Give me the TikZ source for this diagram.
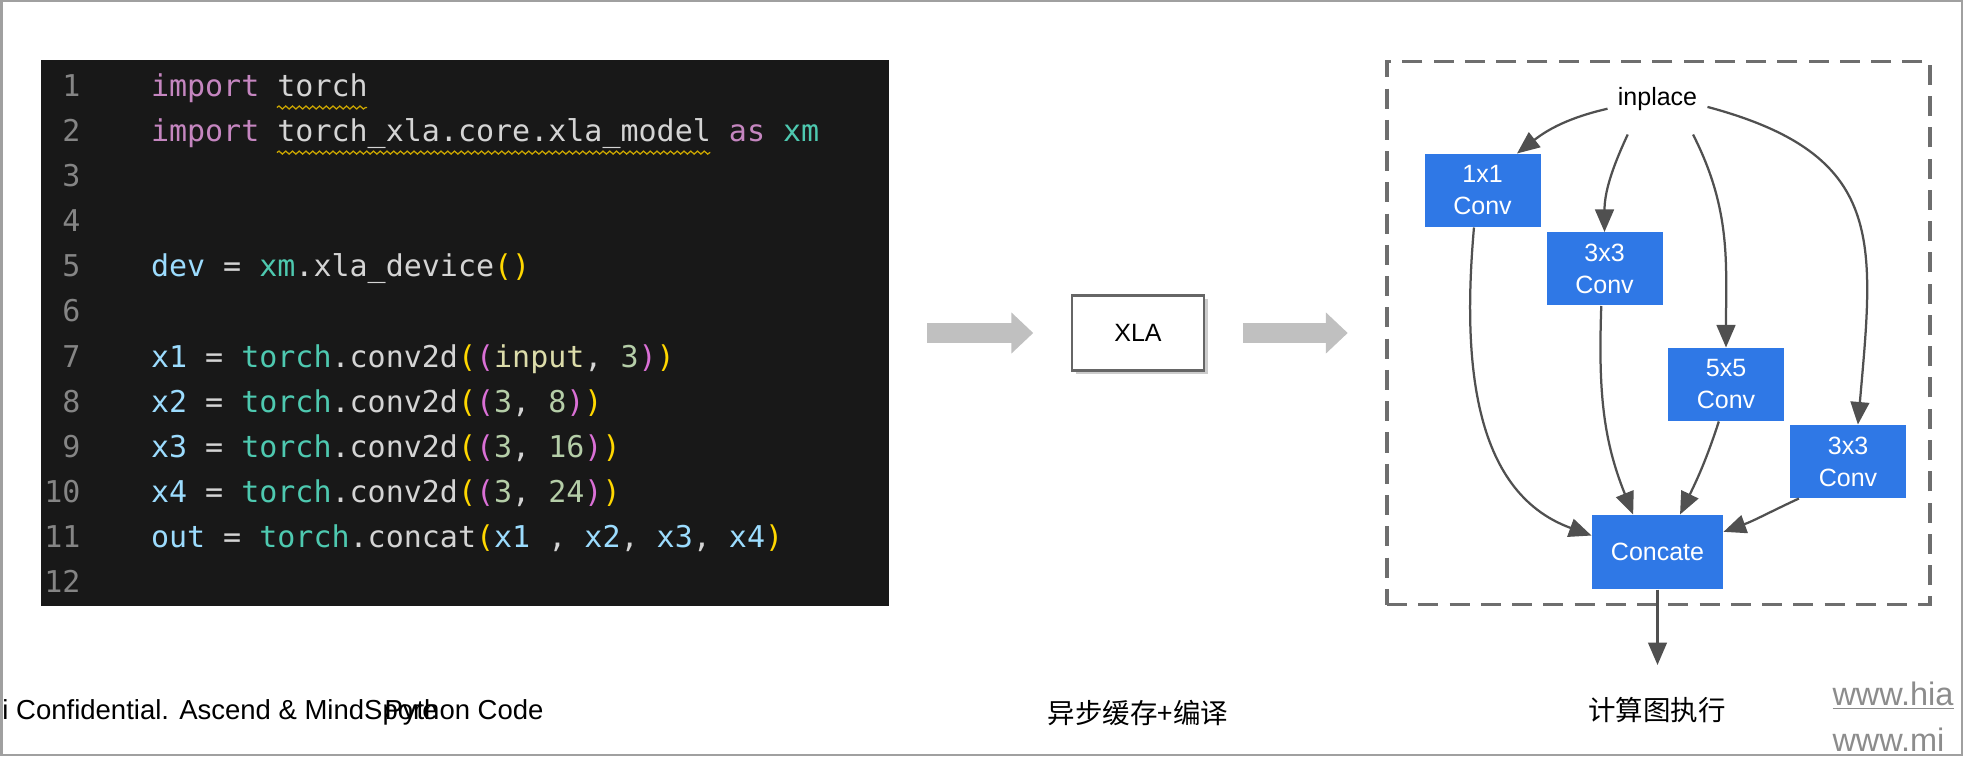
\documentclass[tikz,border=0pt]{standalone}
\usepackage{fontspec}
\setmainfont{Liberation Sans}
\newfontfamily\codefont{DejaVu Sans Mono}
\newfontfamily\cjk{Noto Sans CJK SC}
\usetikzlibrary{arrows.meta,calc,shadows,decorations.pathmorphing,positioning}

\definecolor{codebg}{HTML}{181818}
\definecolor{plaintxt}{HTML}{D4D4D4}
\definecolor{kwpink}{HTML}{C586C0}
\definecolor{varblue}{HTML}{9CDCFE}
\definecolor{modteal}{HTML}{4EC9B0}
\definecolor{brkyellow}{HTML}{FFD700}
\definecolor{brkpink}{HTML}{DA70D6}
\definecolor{argyellow}{HTML}{DCDCAA}
\definecolor{numgreen}{HTML}{B5CEA8}
\definecolor{lnumgray}{HTML}{858585}
\definecolor{squig}{HTML}{CCA700}
\definecolor{convblue}{HTML}{2F78E6}
\definecolor{flowgray}{HTML}{505050}
\definecolor{boxgray}{HTML}{666666}
\definecolor{dashgray}{HTML}{6E6E6E}
\definecolor{arrowgray}{HTML}{C0C0C0}
\definecolor{framegray}{HTML}{A0A0A0}
\definecolor{wmgray}{HTML}{8C8C8C}

\newcommand{\ckw}[1]{\textcolor{kwpink}{#1}}
\newcommand{\cvar}[1]{\textcolor{varblue}{#1}}
\newcommand{\cmod}[1]{\textcolor{modteal}{#1}}
\newcommand{\cbra}[1]{\textcolor{brkyellow}{#1}}
\newcommand{\cbrb}[1]{\textcolor{brkpink}{#1}}
\newcommand{\carg}[1]{\textcolor{argyellow}{#1}}
\newcommand{\cnum}[1]{\textcolor{numgreen}{#1}}

\tikzset{
	codepanel/.style={fill=codebg, inner sep=0pt, minimum width=339.2pt, minimum height=218.4pt},
	codeline/.style={anchor=base west, inner sep=0pt, text=plaintxt, font=\codefont\fontsize{12}{14}\selectfont},
	linenum/.style={anchor=base east, inner sep=0pt, text=lnumgray, font=\codefont\fontsize{12}{14}\selectfont},
	squiggle/.style={draw=squig, line width=0.5pt, decorate, decoration={snake, amplitude=0.6pt, segment length=2.7pt}},
	bigarrow/.style={draw=arrowgray, line width=8pt, -{Triangle[length=8.8pt,width=16pt]}, shorten <=15pt, shorten >=15pt},
	xlabox/.style={draw=boxgray, line width=1pt, fill=white, drop shadow={shadow xshift=1.5pt, shadow yshift=-1.5pt, opacity=0.4}, minimum width=52.8pt, minimum height=30pt, font=\fontsize{10}{12}\selectfont},
	dashframe/.style={draw=dashgray, line width=1.4pt, dash pattern=on 8pt off 4.5pt, minimum width=217.2pt, minimum height=217.2pt},
	opbox/.style={fill=convblue, text=white, minimum width=46.4pt, minimum height=29.2pt, inner sep=0pt, align=center, font=\fontsize{10}{12.8}\selectfont},
	flow/.style={draw=flowgray, line width=0.9pt, -{Triangle[length=9pt,width=7.5pt]}},
	caption/.style={font=\fontsize{11}{13}\selectfont},
	cjkcap/.style={font=\cjk\fontsize{11}{13}\selectfont},
}

\begin{document}
\begin{tikzpicture}[x=0.4pt, y=-0.4pt]
	\useasboundingbox (0,0) rectangle (1966,758);
	\draw[framegray, line width=0.8pt] (1.5,1.5) rectangle (1962,754.5);

	% code editor
	\node[codepanel] (code) at (465,333) {};
	\foreach \i in {1,...,12}
		\node[linenum] (n\i) at (81,{96.5+45.1*(\i-1)}) {\i};
	\node[codeline] (l1) at (150.5,96.5) {\ckw{import} torch};
	\node[codeline] (l2) at (150.5,141.6) {\ckw{import} torch\_xla.core.xla\_model \ckw{as} \cmod{xm}};
	\node[codeline] (l5) at (150.5,276.9) {\cvar{dev} = \cmod{xm}.xla\_device\cbra{()}};
	\node[codeline] (l7) at (150.5,367.1) {\cvar{x1} = \cmod{torch}.conv2d\cbra{(}\cbrb{(}\carg{input}, \cnum{3}\cbrb{)}\cbra{)}};
	\node[codeline] (l8) at (150.5,412.2) {\cvar{x2} = \cmod{torch}.conv2d\cbra{(}\cbrb{(}\cnum{3}, \cnum{8}\cbrb{)}\cbra{)}};
	\node[codeline] (l9) at (150.5,457.3) {\cvar{x3} = \cmod{torch}.conv2d\cbra{(}\cbrb{(}\cnum{3}, \cnum{16}\cbrb{)}\cbra{)}};
	\node[codeline] (l10) at (150.5,502.4) {\cvar{x4} = \cmod{torch}.conv2d\cbra{(}\cbrb{(}\cnum{3}, \cnum{24}\cbrb{)}\cbra{)}};
	\node[codeline] (l11) at (150.5,547.5) {\cvar{out} = \cmod{torch}.concat\cbra{(}\cvar{x1} , \cvar{x2}, \cvar{x3}, \cvar{x4}\cbra{)}};
	\draw[squiggle] ($(l1.base west)+(126.4,11)$) -- ($(l1.base west)+(216.7,11)$);
	\draw[squiggle] ($(l2.base west)+(126.4,11)$) -- ($(l2.base west)+(559.9,11)$);

	% compiler
	\node[xlabox] (xla) at (1138,333) {XLA};
	\node[dashframe] (graph) at (1658.5,333) {};
	\draw[bigarrow] (code.east) -- (xla.west);
	\draw[bigarrow] (xla.east) -- (graph.west);

	% graph
	\node[minimum width=39.6pt, minimum height=28pt, inner sep=0pt, font=\fontsize{10}{12}\selectfont] (inplace) at (1657.5,99) {inplace};
	\node[opbox] (c1) at (1482.5,190.5) {1x1\\Conv};
	\node[opbox] (c2) at (1604.5,269) {3x3\\Conv};
	\node[opbox] (c3) at (1726,384.5) {5x5\\Conv};
	\node[opbox] (c4) at (1848,461.5) {3x3\\Conv};
	\node[opbox, minimum width=52.4pt, minimum height=29.6pt] (cat) at (1657.5,552) {Concate};
	\coordinate (out) at (1657.5,665);

	\draw[flow] (inplace.191) to[out=193, in=38] (c1.47);
	\draw[flow] (inplace.230) to[out=245, in=90] (c2.north);
	\draw[flow] (inplace.315) to[out=297, in=90] (c3.north);
	\draw[flow] (inplace.351) to[out=-15, in=85, looseness=1.35] (c4.75);
	\draw[flow] (c1.257) to[out=265, in=160] (cat.166);
	\draw[flow] (c2.265) to[out=268, in=112] (cat.123);
	\draw[flow] (c3.259) to[out=252, in=64] (cat.59);
	\draw[flow] (c4.217) to[out=205, in=20] (cat.17);
	\draw[flow] (cat) -- (out);

	% captions
	\node[caption, anchor=west, inner sep=0pt] (conf) at (2,712) {i Confidential. Ascend \& MindSpore};
	\node[caption] (pycap) at (464,712) {Python Code};
	\node[cjkcap] (xlacap) at (1138,713) {异步缓存+编译};
	\node[cjkcap] (runcap) at (1657,710) {计算图执行};
	\begin{scope}
		\clip (0,0) rectangle (1961,754);
		\node[anchor=base west, inner sep=0pt, text=wmgray, font=\fontsize{13}{15}\selectfont] (site1) at (1832,705) {\underline{www.hia}};
		\node[anchor=base west, inner sep=0pt, text=wmgray, font=\fontsize{13}{15}\selectfont] (site2) at (1832,751) {www.mi};
	\end{scope}
\end{tikzpicture}
\end{document}
